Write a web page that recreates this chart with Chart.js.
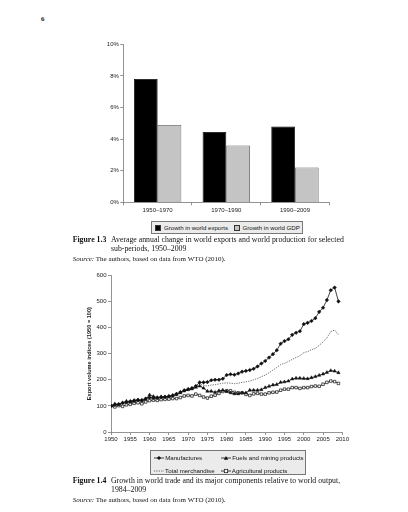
<!DOCTYPE html>
<html>
<head>
<meta charset="utf-8">
<script src="https://cdn.jsdelivr.net/npm/chart.js@4.4.1/dist/chart.umd.min.js"></script>
<style>
  html, body { margin: 0; padding: 0; background: #fff; }
  body { width: 408px; height: 512px; position: relative; overflow: hidden; font-family: "Liberation Sans", Arial, sans-serif; color: #111; }
  .abs { position: absolute; }
  #pageNum { left: 41px; top: 15px; font: bold 7px "Liberation Serif", serif; color: #111; }
  #barWrap { left: 90px; top: 36px; width: 250px; height: 185px; }
  #lineWrap { left: 80px; top: 268px; width: 270px; height: 180px; }
  .legend { background: #ebebeb; border: 1px solid #777; box-sizing: border-box; font-size: 6.1px; color: #111; }
  .legend .item { position: absolute; white-space: nowrap; line-height: 7px; }
  .sw { display: inline-block; width: 4px; height: 4px; border: 0.6px solid #333; vertical-align: -0.5px; margin-right: 3px; }
  .cap { font-family: "Liberation Serif", serif; font-size: 7.8px; line-height: 8.7px; color: #111; }
  .cap .lab { position: absolute; left: 0; top: 0; font-weight: bold; white-space: nowrap; }
  .cap .txt { position: absolute; left: 38.3px; top: 0; white-space: nowrap; }
  .src { font-family: "Liberation Serif", serif; font-size: 7px; white-space: nowrap; color: #111; }
  svg { vertical-align: middle; }
</style>
</head>
<body>
<div id="pageNum" class="abs">6</div>

<div id="barWrap" class="abs"><canvas id="barChart" width="250" height="185"></canvas></div>

<div class="abs legend" style="left:150.5px; top:220.5px; width:152px; height:13px;">
  <div class="item" style="left:3.5px; top:2.5px;"><span class="sw" style="background:#000"></span>Growth in world exports</div>
  <div class="item" style="left:82px; top:2.5px;"><span class="sw" style="background:#c4c4c4"></span>Growth in world GDP</div>
</div>

<div class="abs cap" style="left:72.7px; top:236px; width:300px; height:20px;">
  <span class="lab">Figure 1.3</span>
  <div class="txt">Average annual change in world exports and world production for selected<br>sub-periods, 1950–2009</div>
</div>
<div class="abs src" style="left:72.7px; top:254.5px;"><i>Source:</i> The authors, based on data from WTO (2010).</div>

<div id="lineWrap" class="abs"><canvas id="lineChart" width="270" height="180"></canvas></div>

<div class="abs legend" style="left:149.5px; top:450px; width:156px; height:24.5px;">
  <div class="item" style="left:3px; top:3px;">
    <svg width="10" height="6"><line x1="0" y1="3" x2="10" y2="3" stroke="#111" stroke-width="0.8"/><rect x="3.5" y="1.5" width="3" height="3" fill="#111" transform="rotate(45 5 3)"/></svg>
    Manufactures</div>
  <div class="item" style="left:70px; top:3px;">
    <svg width="10" height="6"><line x1="0" y1="3" x2="10" y2="3" stroke="#111" stroke-width="0.8"/><polygon points="5,1 7.2,4.8 2.8,4.8" fill="#111"/></svg>
    Fuels and mining products</div>
  <div class="item" style="left:3px; top:15.5px;">
    <svg width="10" height="6"><line x1="0" y1="3" x2="10" y2="3" stroke="#444" stroke-width="0.8" stroke-dasharray="1.2,1.2"/></svg>
    Total merchandise</div>
  <div class="item" style="left:70px; top:15.5px;">
    <svg width="10" height="6"><line x1="0" y1="3" x2="10" y2="3" stroke="#111" stroke-width="0.8"/><rect x="3.3" y="1.3" width="3.4" height="3.4" fill="#fff" stroke="#111" stroke-width="0.7"/></svg>
    Agricultural products</div>
</div>

<div class="abs cap" style="left:72.7px; top:477.3px; width:300px; height:20px;">
  <span class="lab">Figure 1.4</span>
  <div class="txt">Growth in world trade and its major components relative to world output,<br>1984–2009</div>
</div>
<div class="abs src" style="left:72.7px; top:495.7px;"><i>Source:</i> The authors, based on data from WTO (2010).</div>

<script>
// Figure 1.3 data
const periods = ["1950–1970", "1970–1990", "1990–2009"];
const exportsGrowth = [7.8, 4.45, 4.8];
const gdpGrowth = [4.9, 3.6, 2.2];
const pctTicks = [0, 2, 4, 6, 8, 10];

// Figure 1.4 data (1950 = 100)
const years = [1950, 1951, 1952, 1953, 1954, 1955, 1956, 1957, 1958, 1959,
  1960, 1961, 1962, 1963, 1964, 1965, 1966, 1967, 1968, 1969,
  1970, 1971, 1972, 1973, 1974, 1975, 1976, 1977, 1978, 1979,
  1980, 1981, 1982, 1983, 1984, 1985, 1986, 1987, 1988, 1989,
  1990, 1991, 1992, 1993, 1994, 1995, 1996, 1997, 1998, 1999,
  2000, 2001, 2002, 2003, 2004, 2005, 2006, 2007, 2008, 2009];
const manufactures = [100, 104, 106, 111, 114, 118, 121, 123, 122, 128,
  132, 130, 131, 133, 135, 137, 140, 146, 153, 160,
  164, 168, 176, 190, 190, 191, 198, 200, 200, 204,
  218, 221, 219, 224, 231, 234, 237, 242, 251, 262,
  272, 285, 298, 313, 338, 348, 355, 372, 380, 386,
  413, 418, 425, 436, 460, 476, 505, 543, 553, 500];
const fuelsMining = [100, 108, 106, 112, 118, 115, 118, 122, 120, 125,
  142, 136, 132, 135, 134, 136, 140, 143, 150, 157,
  162, 165, 171, 176, 168, 156, 156, 152, 158, 160,
  155, 150, 146, 146, 150, 150, 160, 160, 160, 162,
  170, 175, 180, 182, 190, 192, 195, 203, 206, 206,
  205, 204, 208, 212, 217, 222, 228, 235, 233, 227];
const totalMerch = [100, 104, 105, 109, 113, 116, 119, 121, 120, 125,
  131, 130, 131, 133, 134, 136, 140, 144, 151, 157,
  161, 166, 173, 182, 179, 176, 180, 181, 184, 187,
  188, 187, 185, 187, 190, 192, 195, 200, 205, 212,
  218, 227, 237, 247, 258, 263, 270, 278, 285, 292,
  304, 308, 315, 320, 332, 345, 360, 385, 390, 372];
const agricultural = [100, 96, 101, 98, 104, 106, 110, 112, 108, 115,
  120, 122, 121, 124, 125, 126, 128, 128, 132, 138,
  140, 138, 145, 140, 134, 130, 137, 141, 148, 155,
  158, 158, 152, 150, 150, 144, 140, 146, 148, 145,
  145, 150, 152, 153, 160, 164, 164, 170, 170, 167,
  170, 170, 174, 176, 175, 183, 190, 195, 193, 186];

Chart.defaults.font.family = '"Liberation Sans", Arial, sans-serif';
Chart.defaults.font.size = 6;
Chart.defaults.color = '#222';
Chart.defaults.animation = false;

function toPoints(vals) {
  return years.map((y, i) => ({ x: y, y: vals[i] }));
}

// bar chart
new Chart(document.getElementById('barChart').getContext('2d'), {
  type: 'bar',
  data: {
    labels: periods,
    datasets: [{
      label: 'Growth in world exports',
      data: exportsGrowth,
      backgroundColor: '#000',
      borderColor: '#000',
      borderWidth: 0.8
    }, {
      label: 'Growth in world GDP',
      data: gdpGrowth,
      backgroundColor: '#c4c4c4',
      borderColor: '#555',
      borderWidth: 0.8
    }]
  },
  options: {
    responsive: false,
    layout: { padding: { top: 8.3, right: 10.7, left: 0, bottom: 0 } },
    categoryPercentage: 0.69,
    barPercentage: 1,
    plugins: { legend: { display: false }, tooltip: { enabled: false } },
    scales: {
      x: {
        grid: { drawOnChartArea: false, tickLength: 3, color: '#777', lineWidth: 0.8 },
        border: { color: '#777', width: 0.8 },
        ticks: { padding: 1, font: { size: 6 } },
        afterFit: (s) => { s.height = 18.7; }
      },
      y: {
        min: 0, max: 10,
        afterBuildTicks: (s) => { s.ticks = pctTicks.map(v => ({ value: v })); },
        grid: { drawOnChartArea: false, tickLength: 3, color: '#777', lineWidth: 0.8 },
        border: { color: '#777', width: 0.8 },
        ticks: { padding: 1.5, callback: (v) => v + '%', font: { size: 6 } },
        afterFit: (s) => { s.width = 33.3; }
      }
    }
  }
});

// line chart
new Chart(document.getElementById('lineChart').getContext('2d'), {
  type: 'line',
  data: {
    datasets: [{
      label: 'Manufactures',
      data: toPoints(manufactures),
      borderColor: '#111',
      borderWidth: 0.8,
      pointStyle: 'rectRot',
      pointRadius: 1.8,
      pointBackgroundColor: '#111',
      pointBorderColor: '#111',
      pointBorderWidth: 0.5
    }, {
      label: 'Fuels and mining products',
      data: toPoints(fuelsMining),
      borderColor: '#111',
      borderWidth: 0.8,
      pointStyle: 'triangle',
      pointRadius: 1.9,
      pointBackgroundColor: '#111',
      pointBorderColor: '#111',
      pointBorderWidth: 0.5
    }, {
      label: 'Total merchandise',
      data: toPoints(totalMerch),
      borderColor: '#444',
      borderWidth: 0.8,
      borderDash: [1.2, 1.2],
      pointRadius: 0
    }, {
      label: 'Agricultural products',
      data: toPoints(agricultural),
      borderColor: '#111',
      borderWidth: 0.8,
      pointStyle: 'rect',
      pointRadius: 1.8,
      pointBackgroundColor: '#fff',
      pointBorderColor: '#111',
      pointBorderWidth: 0.7
    }]
  },
  options: {
    responsive: false,
    layout: { padding: { top: 7.3, right: 6.7, left: 0, bottom: 0 } },
    plugins: { legend: { display: false }, tooltip: { enabled: false } },
    scales: {
      x: {
        type: 'linear',
        min: 1950, max: 2010,
        ticks: { stepSize: 5, padding: 1, callback: (v) => String(v), font: { size: 6 } },
        grid: { drawOnChartArea: false, tickLength: 3, color: '#777', lineWidth: 0.8 },
        border: { color: '#777', width: 0.8 },
        afterFit: (s) => { s.height = 16; }
      },
      y: {
        min: 0, max: 600,
        ticks: { stepSize: 100, padding: 1.5, font: { size: 6 } },
        grid: { drawOnChartArea: false, tickLength: 3, color: '#777', lineWidth: 0.8 },
        border: { color: '#777', width: 0.8 },
        title: { display: true, text: 'Export volume indices (1950 = 100)', font: { size: 5.6, weight: 'bold' }, padding: { top: 6, bottom: 0 } },
        afterFit: (s) => { s.width = 31; }
      }
    }
  }
});
</script>
</body>
</html>
